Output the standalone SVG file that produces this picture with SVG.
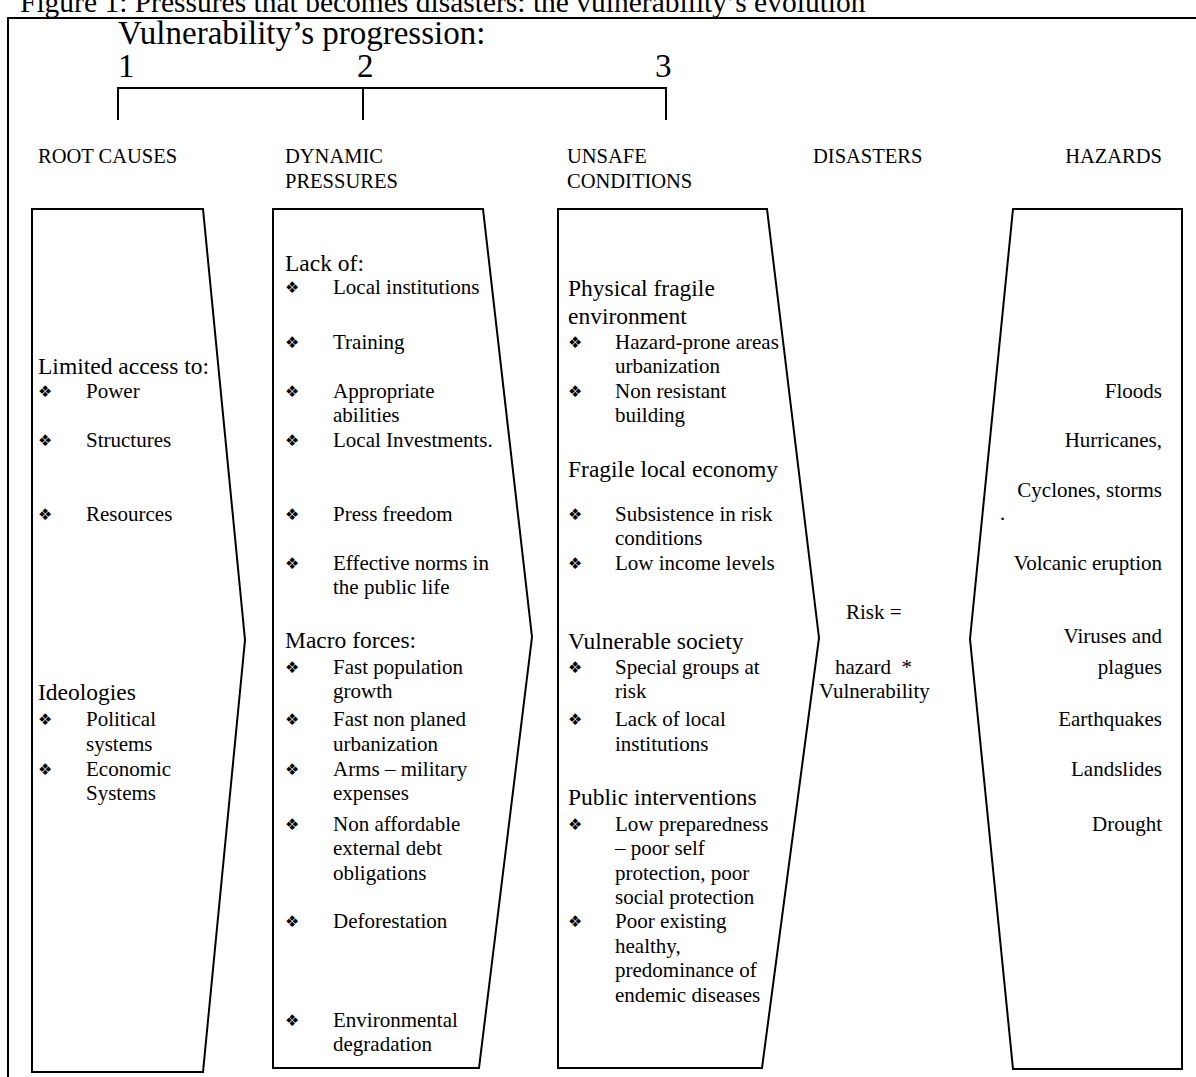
<svg xmlns="http://www.w3.org/2000/svg" width="1196" height="1077" viewBox="0 0 1196 1077">
<style>
text{font-family:"Liberation Serif","Times New Roman",serif;fill:#000}
.title{font-size:29.5px}
.prog{font-size:33px}
.hd{font-size:20.5px}
.h{font-size:23.5px}
.t{font-size:21px}
.b{font-family:"DejaVu Sans",sans-serif;font-size:16px}
.r{text-anchor:end}
.sh{fill:#fff;stroke:#000;stroke-width:2;stroke-linejoin:miter}
.ln{fill:none;stroke:#000;stroke-width:2}
</style>
<rect width="1196" height="1077" fill="#fff"/>
<g id="frame">
<text class="title" x="20" y="12">Figure 1: Pressures that becomes disasters: the vulnerability’s evolution</text>
<path class="ln" d="M8,1077 V18 H1196" stroke-width="2.5"/>
</g>
<g id="progression">
<text class="prog" x="118" y="44">Vulnerability’s progression:</text>
<text class="prog" x="118" y="77">1</text>
<text class="prog" x="357" y="77">2</text>
<text class="prog" x="655" y="77">3</text>
</g>
<g id="connectors">
<path class="ln" d="M118,120 V88 H666 V120 M363,88 V120"/>
</g>
<g id="headers">
<text class="hd" x="38" y="163">ROOT CAUSES</text>
<text class="hd" x="285" y="163">DYNAMIC</text>
<text class="hd" x="285" y="188">PRESSURES</text>
<text class="hd" x="567" y="163">UNSAFE</text>
<text class="hd" x="567" y="188">CONDITIONS</text>
<text class="hd" x="813" y="163">DISASTERS</text>
<text class="hd r" x="1162" y="163">HAZARDS</text>
</g>
<g id="root-causes">
<polygon class="sh" points="32,209 203,209 245,640 203,1072 32,1072"/>
<text class="h" x="38" y="374">Limited access to:</text>
<text class="b" x="38" y="397">❖</text><text class="t" x="86" y="398">Power</text>
<text class="b" x="38" y="446">❖</text><text class="t" x="86" y="447">Structures</text>
<text class="b" x="38" y="520">❖</text><text class="t" x="86" y="521">Resources</text>
<text class="h" x="38" y="700">Ideologies</text>
<text class="b" x="38" y="725">❖</text><text class="t" x="86" y="726">Political</text>
<text class="t" x="86" y="751">systems</text>
<text class="b" x="38" y="775">❖</text><text class="t" x="86" y="776">Economic</text>
<text class="t" x="86" y="800">Systems</text>
</g>
<g id="dynamic-pressures">
<polygon class="sh" points="273,209 483,209 532,637 479,1068 273,1068"/>
<text class="h" x="285" y="271">Lack of:</text>
<text class="b" x="285" y="293">❖</text><text class="t" x="333" y="294">Local institutions</text>
<text class="b" x="285" y="348">❖</text><text class="t" x="333" y="349">Training</text>
<text class="b" x="285" y="397">❖</text><text class="t" x="333" y="398">Appropriate</text>
<text class="t" x="333" y="422">abilities</text>
<text class="b" x="285" y="446">❖</text><text class="t" x="333" y="447">Local Investments.</text>
<text class="b" x="285" y="520">❖</text><text class="t" x="333" y="521">Press freedom</text>
<text class="b" x="285" y="569">❖</text><text class="t" x="333" y="570">Effective norms in</text>
<text class="t" x="333" y="594">the public life</text>
<text class="h" x="285" y="648">Macro forces:</text>
<text class="b" x="285" y="673">❖</text><text class="t" x="333" y="674">Fast population</text>
<text class="t" x="333" y="698">growth</text>
<text class="b" x="285" y="725">❖</text><text class="t" x="333" y="726">Fast non planed</text>
<text class="t" x="333" y="751">urbanization</text>
<text class="b" x="285" y="775">❖</text><text class="t" x="333" y="776">Arms – military</text>
<text class="t" x="333" y="800">expenses</text>
<text class="b" x="285" y="830">❖</text><text class="t" x="333" y="831">Non affordable</text>
<text class="t" x="333" y="855">external debt</text>
<text class="t" x="333" y="880">obligations</text>
<text class="b" x="285" y="927">❖</text><text class="t" x="333" y="928">Deforestation</text>
<text class="b" x="285" y="1026">❖</text><text class="t" x="333" y="1027">Environmental</text>
<text class="t" x="333" y="1051">degradation</text>
</g>
<g id="unsafe-conditions">
<polygon class="sh" points="558,209 767,209 819,638 762,1068 558,1068"/>
<text class="h" x="568" y="296">Physical fragile</text>
<text class="h" x="568" y="324">environment</text>
<text class="b" x="568" y="348">❖</text><text class="t" x="615" y="349">Hazard-prone areas</text>
<text class="t" x="615" y="373">urbanization</text>
<text class="b" x="568" y="397">❖</text><text class="t" x="615" y="398">Non resistant</text>
<text class="t" x="615" y="422">building</text>
<text class="h" x="568" y="477">Fragile local economy</text>
<text class="b" x="568" y="520">❖</text><text class="t" x="615" y="521">Subsistence in risk</text>
<text class="t" x="615" y="545">conditions</text>
<text class="b" x="568" y="569">❖</text><text class="t" x="615" y="570">Low income levels</text>
<text class="h" x="568" y="649">Vulnerable society</text>
<text class="b" x="568" y="673">❖</text><text class="t" x="615" y="674">Special groups at</text>
<text class="t" x="615" y="698">risk</text>
<text class="b" x="568" y="725">❖</text><text class="t" x="615" y="726">Lack of local</text>
<text class="t" x="615" y="751">institutions</text>
<text class="h" x="568" y="805">Public interventions</text>
<text class="b" x="568" y="830">❖</text><text class="t" x="615" y="831">Low preparedness</text>
<text class="t" x="615" y="855">– poor self</text>
<text class="t" x="615" y="880">protection, poor</text>
<text class="t" x="615" y="904">social protection</text>
<text class="b" x="568" y="927">❖</text><text class="t" x="615" y="928">Poor existing</text>
<text class="t" x="615" y="953">healthy,</text>
<text class="t" x="615" y="977">predominance of</text>
<text class="t" x="615" y="1002">endemic diseases</text>
</g>
<g id="disasters">
<text class="t" x="846" y="619">Risk =</text>
<text class="t" x="835" y="674" xml:space="preserve">hazard  *</text>
<text class="t" x="819" y="698">Vulnerability</text>
</g>
<g id="hazards">
<polygon class="sh" points="1013,209 1182,209 1182,1069 1013,1069 970,639"/>
<text class="t r" x="1162" y="398">Floods</text>
<text class="t r" x="1162" y="447">Hurricanes,</text>
<text class="t r" x="1162" y="497">Cyclones, storms</text>
<text class="t" x="1000" y="520">.</text>
<text class="t r" x="1162" y="570">Volcanic eruption</text>
<text class="t r" x="1162" y="643">Viruses and</text>
<text class="t r" x="1162" y="674">plagues</text>
<text class="t r" x="1162" y="726">Earthquakes</text>
<text class="t r" x="1162" y="776">Landslides</text>
<text class="t r" x="1162" y="831">Drought</text>
</g>
</svg>
